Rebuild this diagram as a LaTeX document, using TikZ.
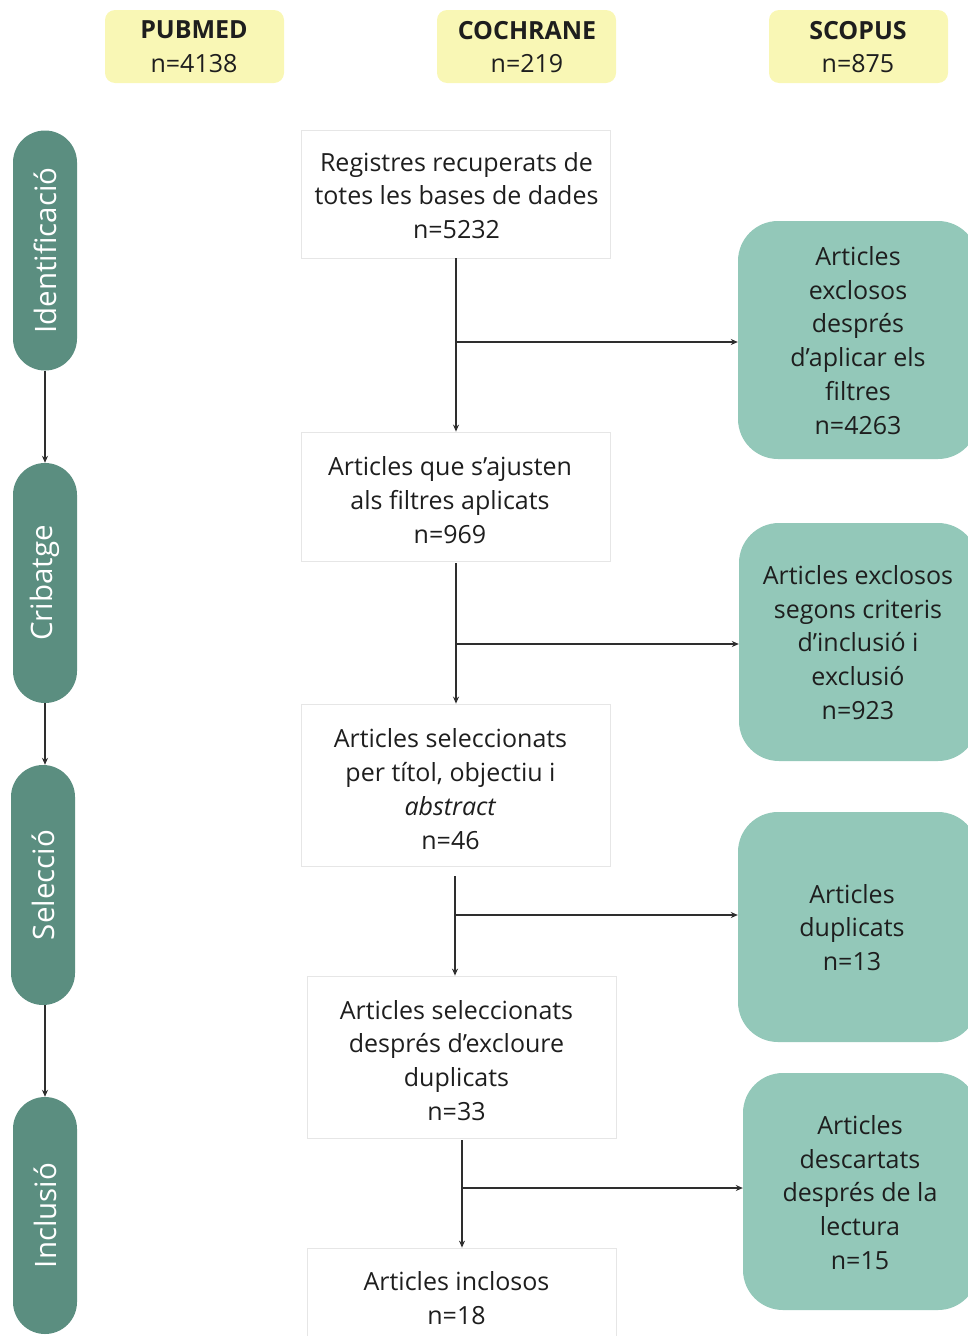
\documentclass[tikz,border=0pt]{standalone}
\usepackage{fontspec}
\setmainfont{Open Sans}
\usetikzlibrary{arrows.meta}
\definecolor{ylw}{HTML}{F9F7B5}
\definecolor{tealL}{HTML}{93C8B9}
\definecolor{tealD}{HTML}{5B8E80}
\definecolor{linec}{HTML}{2E2E2E}
\definecolor{bordc}{HTML}{E6E6E6}
\definecolor{txtc}{HTML}{1E1E1E}
\begin{document}
\begin{tikzpicture}[x=1pt,y=-1pt,
  font=\fontsize{25}{33.8}\selectfont,
  src/.style={fill=ylw, rounded corners=10pt, minimum width=179pt, minimum height=73pt, inner sep=0pt},
  stepbox/.style={draw=bordc, line width=0.8pt, minimum width=309pt, inner sep=0pt},
  txt/.style={align=center, inner sep=0pt, text=txtc},
  excl/.style={fill=tealL, rounded corners=40pt, inner sep=0pt},
  phase/.style={fill=tealD, rounded corners=32pt, minimum width=240pt, minimum height=64pt, rotate=90, text=white, inner sep=0pt, font=\fontsize{29.5}{34}\selectfont},
  arr/.style={-{Stealth[length=7pt,width=6pt]}, line width=1.3pt, draw=linec}]
\useasboundingbox (0,0) rectangle (968,1336);
\clip (0,0) rectangle (968,1336);

% sources
\node[src] (s1) at (194.5,46.5) {};
\node[txt] (s1t) at (194,47) {\textbf{PUBMED}\\n=4138};
\node[src] (s2) at (526.5,46.5) {};
\node[txt] (s2t) at (527,47) {\textbf{COCHRANE}\\n=219};
\node[src] (s3) at (858.5,46.5) {};
\node[txt] (s3t) at (858,47) {\textbf{SCOPUS}\\n=875};

% phases
\node[phase] (p1) at (45,250.5) {Identificació};
\node[phase] (p2) at (45,583) {Cribatge};
\node[phase] (p3) at (43,885) {Selecció};
\node[phase, minimum width=237pt] (p4) at (45,1215.5) {Inclusió};
\draw[arr] (p1.west) -- (p2.east);
\draw[arr] (p2.west) -- (p2.west |- p3.east);
\draw[arr] (p3.west -| p2.west) -- (p4.east);

% main boxes
\node[stepbox, minimum height=128pt] (b1) at (455.5,194) {};
\node[txt] (t1) at (456.5,195.5) {Registres recuperats de\\totes les bases de dades\\n=5232};
\node[stepbox, minimum height=129pt] (b2) at (455.5,496.5) {};
\node[txt] (t2) at (450,500) {Articles que s’ajusten\\als filtres aplicats\\n=969};
\node[stepbox, minimum height=162pt] (b3) at (455.5,785) {};
\node[txt] (t3) at (450.5,789) {Articles seleccionats\\per títol, objectiu i\\\textit{abstract}\\n=46};
\node[stepbox, minimum height=162pt] (b4) at (461.5,1057) {};
\node[txt] (t4) at (456.5,1060.5) {Articles seleccionats\\després d’excloure\\duplicats\\n=33};
\node[stepbox, minimum height=104pt] (b5) at (461.5,1300) {};
\node[txt] (t5) at (456.5,1298.5) {Articles inclosos\\n=18};

% exclusion boxes
\node[excl, minimum width=240pt, minimum height=238pt] (eA) at (858,340) {};
\node[txt] (eAt) at (858,340.5) {Articles\\exclosos\\després\\d’aplicar els\\filtres\\n=4263};
\node[excl, minimum width=239pt, minimum height=238pt] (eB) at (858.5,642) {};
\node[txt] (eBt) at (858,642.5) {Articles exclosos\\segons criteris\\d’inclusió i\\exclusió\\n=923};
\node[excl, minimum width=240pt, minimum height=230pt] (eC) at (858,927) {};
\node[txt] (eCt) at (852,927.5) {Articles\\duplicats\\n=13};
\node[excl, minimum width=235pt, minimum height=237pt] (eD) at (860.5,1191.5) {};
\node[txt] (eDt) at (860,1192.5) {Articles\\descartats\\després de la\\lectura\\n=15};

% flow connectors
\coordinate (a1) at (456,258);
\coordinate (a2) at (456,563);
\coordinate (a3) at (455,876);
\coordinate (a4) at (462,1140);
\draw[arr] (a1) -- (a1 |- b2.north);
\draw[arr] (a2) -- (a2 |- b3.north);
\draw[arr] (a3) -- (a3 |- b4.north);
\draw[arr] (a4) -- (a4 |- b5.north);

\coordinate (j1) at (456,342);
\coordinate (j2) at (456,644);
\coordinate (j3) at (455,915);
\coordinate (j4) at (462,1188);
\draw[arr] (j1) -- (j1 -| eA.west);
\draw[arr] (j2) -- (j2 -| eB.west);
\draw[arr] (j3) -- (j3 -| eC.west);
\draw[arr] (j4) -- (j4 -| eD.west);
\end{tikzpicture}
\end{document}
